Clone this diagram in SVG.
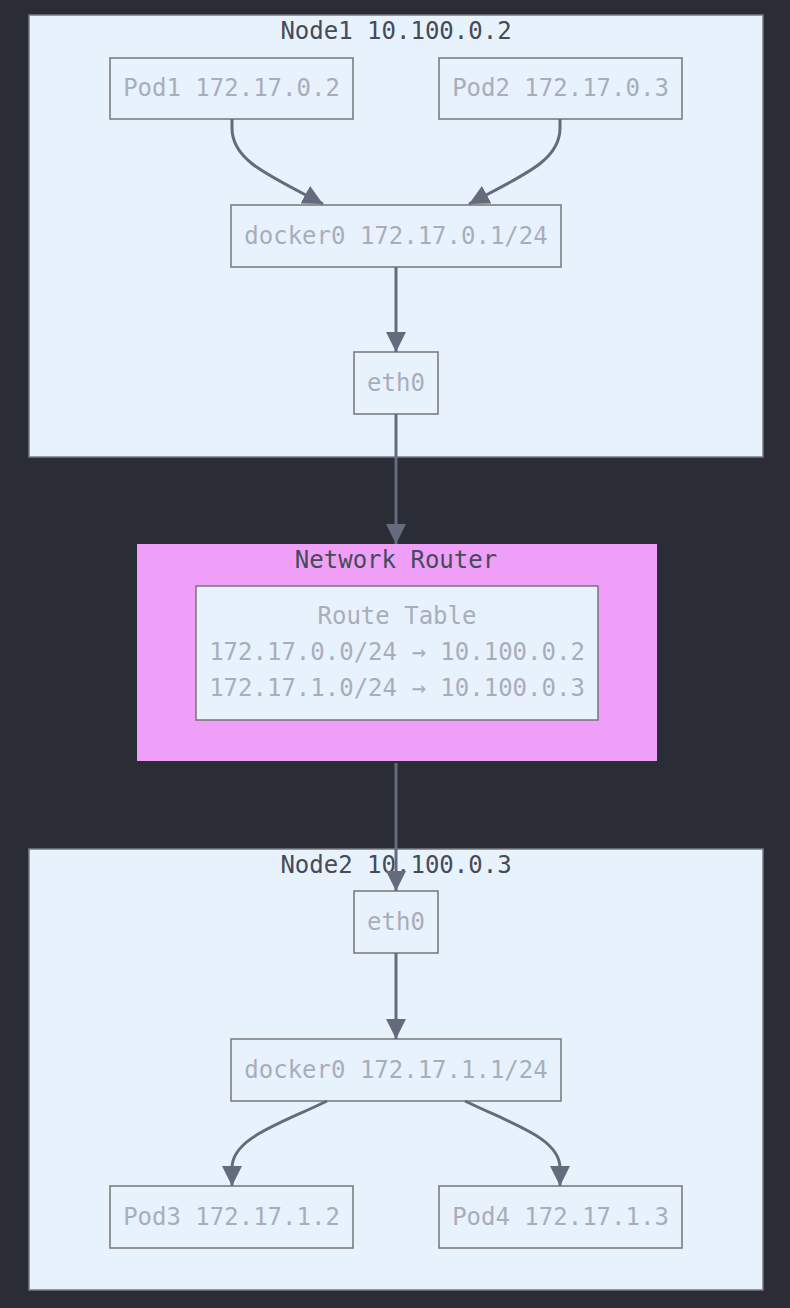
<svg xmlns="http://www.w3.org/2000/svg" width="790" height="1308" viewBox="0 0 790 1308">
<defs>
<style>
.bg{fill:#2a2d35}
.cluster{fill:#e8f2fd;stroke:#777b80;stroke-width:1.5}
.router{fill:#f09ff8;stroke:none}
.node{fill:#e8f2fd;stroke:#767676;stroke-width:1.5}
.title{font-family:"DejaVu Sans Mono",monospace;font-size:24px;fill:#454b57;text-anchor:middle;dominant-baseline:central}
.label{font-family:"DejaVu Sans Mono",monospace;font-size:24px;fill:#a8aeb9;text-anchor:middle;dominant-baseline:central}
.edge{fill:none;stroke:#646b7c;stroke-width:3}
</style>
<marker id="arrow" markerUnits="userSpaceOnUse" viewBox="0 0 20 20" refX="20" refY="10" markerWidth="20" markerHeight="20" orient="auto">
<path d="M0,0 L20,10 L0,20 z" fill="#646b7c"/>
</marker>
</defs>
<rect class="bg" x="0" y="0" width="790" height="1308"/>
<g id="node1">
<rect class="cluster" x="29" y="15" width="734" height="442"/>
<text class="title" x="396" y="31">Node1 10.100.0.2</text>
</g>
<g id="router">
<rect class="router" x="137" y="544" width="520" height="217"/>
<text class="title" x="396" y="560">Network Router</text>
</g>
<g id="node2">
<rect class="cluster" x="29" y="849" width="734" height="441"/>
<text class="title" x="396" y="865">Node2 10.100.0.3</text>
</g>
<g id="pod1"><rect class="node" x="110" y="58" width="243" height="61"/><text class="label" x="231.5" y="88">Pod1 172.17.0.2</text></g>
<g id="pod2"><rect class="node" x="439" y="58" width="243" height="61"/><text class="label" x="560.5" y="88">Pod2 172.17.0.3</text></g>
<g id="docker0a"><rect class="node" x="231" y="205" width="330" height="62"/><text class="label" x="396" y="236">docker0 172.17.0.1/24</text></g>
<g id="eth0a"><rect class="node" x="354" y="352" width="84" height="62"/><text class="label" x="396" y="383">eth0</text></g>
<g id="routetable"><rect class="node" x="196" y="586" width="402" height="134"/>
<text class="label" x="397" y="616">Route Table</text>
<text class="label" x="397" y="652">172.17.0.0/24 → 10.100.0.2</text>
<text class="label" x="397" y="688">172.17.1.0/24 → 10.100.0.3</text>
</g>
<g id="eth0b"><rect class="node" x="354" y="891" width="84" height="62"/><text class="label" x="396" y="922">eth0</text></g>
<g id="docker0b"><rect class="node" x="231" y="1039" width="330" height="62"/><text class="label" x="396" y="1070">docker0 172.17.1.1/24</text></g>
<g id="pod3"><rect class="node" x="110" y="1186" width="243" height="62"/><text class="label" x="231.5" y="1217">Pod3 172.17.1.2</text></g>
<g id="pod4"><rect class="node" x="439" y="1186" width="243" height="62"/><text class="label" x="560.5" y="1217">Pod4 172.17.1.3</text></g>
<g id="edges">
<path class="edge" marker-end="url(#arrow)" d="M232,119 L232,128 C232,160 266,174 323,204"/>
<path class="edge" marker-end="url(#arrow)" d="M560,119 L560,128 C560,160 526,174 469,204"/>
<path class="edge" marker-end="url(#arrow)" d="M396,267 L396,352"/>
<path class="edge" marker-end="url(#arrow)" d="M396,414 L396,544"/>
<path class="edge" marker-end="url(#arrow)" d="M396,763 L396,891"/>
<path class="edge" marker-end="url(#arrow)" d="M396,953 L396,1039"/>
<path class="edge" marker-end="url(#arrow)" d="M327,1101 C280,1124 232,1138 232,1168 L232,1186"/>
<path class="edge" marker-end="url(#arrow)" d="M465,1101 C512,1124 560,1138 560,1168 L560,1186"/>
</g>
</svg>
